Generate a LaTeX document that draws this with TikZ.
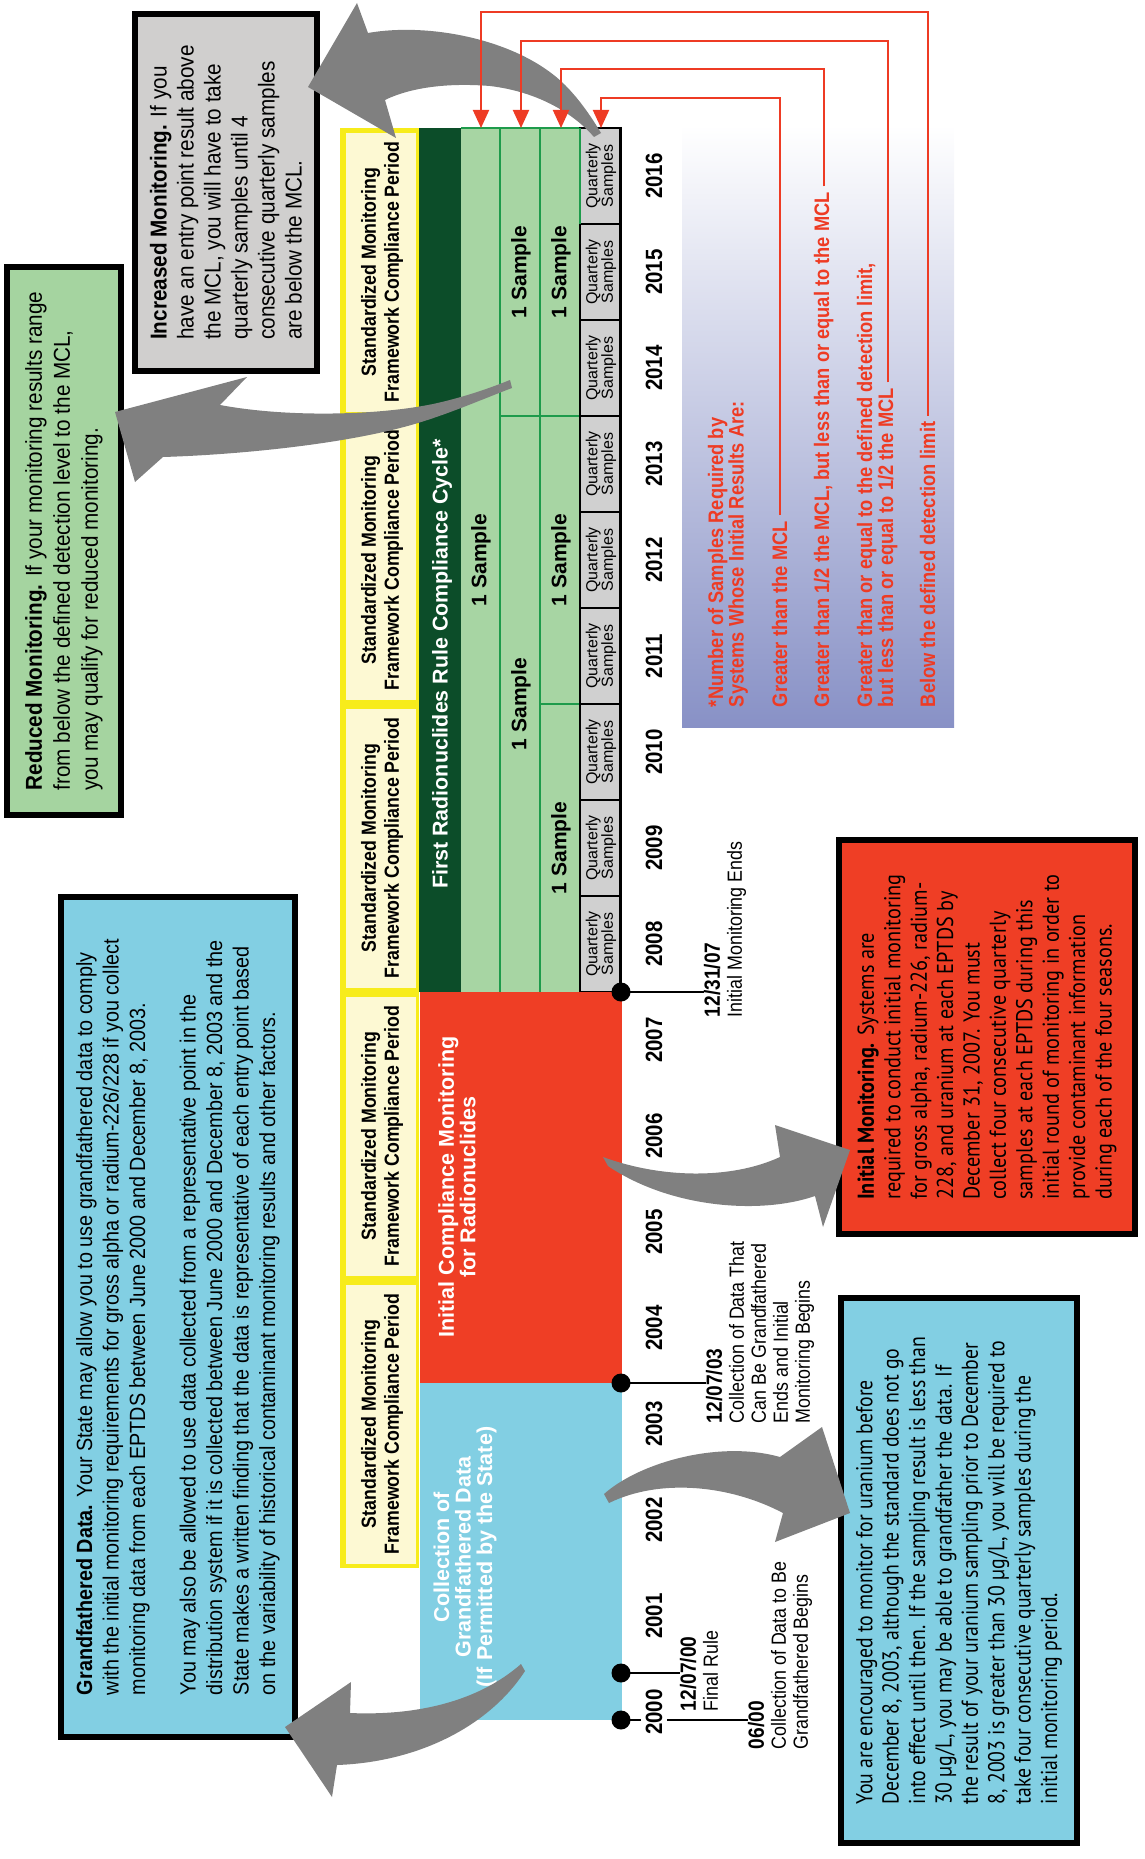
\documentclass[tikz,border=0pt]{standalone}
\usepackage{fontspec}
\setmainfont{Liberation Sans}
\newfontfamily\fN{Liberation Sans}
\newfontfamily\fA{Liberation Sans}[FakeStretch=0.87]
\newfontfamily\fB{Liberation Sans}[FakeStretch=0.9]
\newfontfamily\fC{PT Sans}[FakeStretch=0.88]
\newfontfamily\fD{PT Sans}[FakeStretch=0.86]
\usetikzlibrary{arrows.meta}
\definecolor{cyel}{HTML}{F7EC1B}
\definecolor{ccream}{HTML}{FDF9D3}
\definecolor{cdkgreen}{HTML}{0C4D29}
\definecolor{cltgreen}{HTML}{A7D5A3}
\definecolor{cgline}{HTML}{1E9B4B}
\definecolor{cred}{HTML}{EF3E25}
\definecolor{cblue}{HTML}{82CFE3}
\definecolor{cgray}{HTML}{D0D0D0}
\definecolor{carrow}{HTML}{808080}
\definecolor{clegred}{HTML}{EE3B24}
\definecolor{clav}{HTML}{8891C6}
\definecolor{cboxgreen}{HTML}{A5D4A0}
\definecolor{cboxgray}{HTML}{D0CFCE}
\newcommand{\dbf}{\bfseries\fontsize{22}{22.5}\selectfont}
\begin{document}
\begin{tikzpicture}[x=1pt,y=-1pt,
  rt/.style={rotate=90, inner sep=0pt, outer sep=0pt},
  smlab/.style={rt, align=center, font=\fA\bfseries\fontsize{20.4}{23}\selectfont},
  onesam/.style={rt, font=\fN\bfseries\fontsize{21}{22}\selectfont},
  qs/.style={rt, align=center, font=\fN\fontsize{16}{15.5}\selectfont},
  wlab/.style={rt, align=center, text=white, font=\fN\bfseries\fontsize{21.5}{21.5}\selectfont},
  yr/.style={rt, fill=white, inner xsep=1pt, inner ysep=5pt, font=\fA\bfseries\fontsize{23.5}{24}\selectfont},
  dot/.style={circle, fill=black, inner sep=0pt, minimum size=19pt},
  dlab/.style={rt, anchor=north west, align=left, font=\fA\fontsize{20.5}{22}\selectfont},
  tl/.style={line width=1.5pt},
  leg/.style={rt, anchor=north west, align=left, text=clegred, font=\fA\bfseries\fontsize{21}{20.5}\selectfont},
  rline/.style={draw=clegred, line width=2pt, -{Triangle[length=18pt,width=16pt]}},
  box/.style={rt, draw=black, line width=6pt, align=left},
  gline/.style={draw=cgline, line width=2pt},
  garrow/.style={fill=carrow}
]
\useasboundingbox (0,0) rectangle (1144,1859);

% legend background
\shade[top color=white, bottom color=clav] (682,125) rectangle (954,727);

% yellow column
\fill[cyel] (340,128) rectangle (419,1568);
\foreach \i in {0,...,4} {
  \fill[ccream] (346,{128+288*\i+5}) rectangle (416,{128+288*(\i+1)-4});
}
\foreach \i/\nm in {0/s1,1/s2,2/s3,3/s4,4/s5}
  \node[smlab] (\nm) at (382,{272+288*\i}) {Standardized Monitoring\\Framework Compliance Period};

% green columns
\fill[cdkgreen] (419,128) rectangle (461,992);
\fill[cltgreen] (461,128) rectangle (580,992);
\draw[gline] (461,128) -- (580,128);
\draw[gline] (500,128) -- (500,992);
\draw[gline] (540,128) -- (540,992);
\draw[gline] (580,128) -- (580,992);
\draw[gline] (500,416) -- (580,416);
\draw[gline] (540,704) -- (580,704);
\node[rt, text=white, font=\fN\bfseries\fontsize{21.4}{22}\selectfont] (frc) at (442,664) {First Radionuclides Rule Compliance Cycle*};
\node[onesam] (c1a) at (481,560) {1 Sample};
\node[onesam] (c2a) at (521,272) {1 Sample};
\node[onesam] (c2b) at (521,704) {1 Sample};
\node[onesam] (c3a) at (561,272) {1 Sample};
\node[onesam] (c3b) at (561,560) {1 Sample};
\node[onesam] (c3c) at (561,848) {1 Sample};

% quarterly samples
\foreach \k in {0,...,8} {
  \draw[fill=cgray, line width=2pt] (580,{128+96*\k}) rectangle (620,{224+96*\k});
  \node[qs] (q\k) at (601,{176+96*\k}) {Quarterly\\Samples};
}
\draw[line width=3pt] (620,127) -- (620,993);
\draw[gline] (580,128) -- (580,224);

% red and blue periods
\fill[cred] (420,992) rectangle (622,1383);
\fill[cblue] (420,1383) rectangle (622,1720);
\node[wlab] (icm) at (457,1187) {Initial Compliance Monitoring\\for Radionuclides};
\node[wlab] (cgd) at (465,1557) {Collection of\\Grandfathered Data\\(If Permitted by the State)};

% date labels and connectors
\node[dlab] (l1) at (704,1017) {{\dbf 12/31/07}\\Initial Monitoring Ends};
\node[dlab] (l2) at (706,1423) {{\dbf 12/07/03}\\Collection of Data That\\Can Be Grandfathered\\Ends and Initial\\Monitoring Begins};
\node[dlab] (l3) at (680,1711) {{\dbf 12/07/00}\\Final Rule};
\node[dlab] (l4) at (748,1749) {{\dbf 06/00}\\Collection of Data to Be\\Grandfathered Begins};
\coordinate (p1) at (621,992);
\coordinate (p2) at (621,1383);
\coordinate (p3) at (621,1673);
\coordinate (p4) at (621,1720);
\draw[tl] (p1) -- (p1 -| l1.north);
\draw[tl] (p2) -- (p2 -| l2.north);
\draw[tl] (p3) -- (p3 -| l3.north);
\draw[tl] (p4) -- (p4 -| l4.north);
\node[dot] (d1) at (p1) {};
\node[dot] (d2) at (p2) {};
\node[dot] (d3) at (p3) {};
\node[dot] (d4) at (p4) {};

% years
\foreach \yr [count=\i from 0] in {2000,...,2016}
  \node[yr] (y\yr) at (654,{1760-(\i+0.5)*96}) {\yr};

% text boxes
\node[box, fill=cboxgreen, minimum width=548pt, minimum height=114pt, font=\fB\fontsize{23}{28}\selectfont] (redm) at (64,541)
 {{\bfseries Reduced Monitoring.} If your monitoring results range\\from below the defined detection level to the MCL,\\you may qualify for reduced monitoring.};
\node[box, fill=cboxgray, minimum width=357pt, minimum height=182pt, font=\fB\fontsize{23}{27}\selectfont] (incm) at (226,192.5)
 {{\bfseries Increased Monitoring.} If you\\have an entry point result above\\the MCL, you will have to take\\quarterly samples until 4\\consecutive quarterly samples\\are below the MCL.};
\node[box, fill=cblue, minimum width=840pt, minimum height=234pt, font=\fB\fontsize{22}{26.5}\selectfont] (gfd) at (178,1317)
 {{\bfseries Grandfathered Data.} Your State may allow you to use grandfathered data to comply\\with the initial monitoring requirements for gross alpha or radium-226/228 if you collect\\monitoring data from each EPTDS between June 2000 and December 8, 2003.\\[24pt]You may also be allowed to use data collected from a representative point in the\\distribution system if it is collected between June 2000 and December 8, 2003 and the\\State makes a written finding that the data is representative of each entry point based\\on the variability of historical contaminant monitoring results and other factors.};
\node[box, fill=cred, minimum width=394pt, minimum height=296pt, font=\fC\fontsize{23}{26.4}\selectfont] (inim) at (987,1037)
 {{\bfseries Initial Monitoring.} Systems are\\required to conduct initial monitoring\\for gross alpha, radium-226, radium-\\228, and uranium at each EPTDS by\\December 31, 2007. You must\\collect four consecutive quarterly\\samples at each EPTDS during this\\initial round of monitoring in order to\\provide contaminant information\\during each of the four seasons.};
\node[box, fill=cblue, minimum width=545pt, minimum height=236pt, font=\fD\fontsize{23}{26.4}\selectfont] (urm) at (959,1570.5)
 {You are encouraged to monitor for uranium before\\December 8, 2003, although the standard does not go\\into effect until then. If the sampling result is less than\\30 µg/L, you may be able to grandfather the data. If\\the result of your uranium sampling prior to December\\8, 2003 is greater than 30 µg/L, you will be required to\\take four consecutive quarterly samples during the\\initial monitoring period.};

% gray arrows
\fill[garrow] (308,87) -- (357,3) -- (368,33) .. controls (430,22) and (520,40) .. (565,85) .. controls (580,100) and (592,118) .. (601,133) -- (594,137) .. controls (575,115) and (540,92) .. (490,86) .. controls (440,82) and (405,90) .. (385,100) -- (396,138) -- cycle;
\fill[garrow] (115,412) -- (247,377) -- (220,405) .. controls (290,418) and (380,415) .. (433,404) .. controls (465,397) and (490,388) .. (510,380) -- (512,388) .. controls (480,400) and (440,418) .. (400,428) .. controls (330,446) and (230,455) .. (163,457) -- (135,482) -- cycle;
\fill[garrow] (285,1727) -- (351,1682) -- (350,1713) .. controls (420,1716) and (480,1700) .. (521,1664) -- (525,1671) .. controls (490,1725) and (420,1762) .. (337,1765) -- (332,1797) -- cycle;
\fill[garrow] (604,1494) .. controls (640,1462) and (720,1440) .. (780,1457) -- (822,1427) -- (850,1513) -- (775,1542) -- (783,1513) .. controls (730,1485) and (660,1478) .. (609,1503) -- cycle;
\fill[garrow] (603,1157) .. controls (660,1178) and (730,1180) .. (780,1157) -- (775,1125) -- (850,1150) -- (823,1227) -- (815,1196) .. controls (760,1215) and (670,1208) .. (608,1166) -- cycle;

% legend
\node[leg] (lt) at (708,707) {*Number of Samples Required by\\Systems Whose Initial Results Are:};
\node[leg] (lg1) at (772,707) {Greater than the MCL};
\node[leg] (lg2) at (814,707) {Greater than 1/2 the MCL, but less than or equal to the MCL};
\node[leg] (lg3a) at (857,707) {Greater than or equal to the defined detection limit,};
\node[leg] (lg3b) at (878,707) {but less than or equal to 1/2 the MCL};
\node[leg] (lg4) at (920,707) {Below the defined detection limit};
\coordinate (t1) at (481,128);
\coordinate (t2) at (521,128);
\coordinate (t3) at (561,128);
\coordinate (t4) at (601,128);
\draw[rline] ([yshift=6pt]lg1.east) |- ([yshift=30pt]t4) -- (t4);
\draw[rline] ([yshift=6pt]lg2.east) |- ([yshift=59pt]t3) -- (t3);
\draw[rline] ([yshift=6pt]lg3b.east) |- ([yshift=87pt]t2) -- (t2);
\draw[rline] ([yshift=6pt]lg4.east) |- ([yshift=116pt]t1) -- (t1);
\end{tikzpicture}
\end{document}
